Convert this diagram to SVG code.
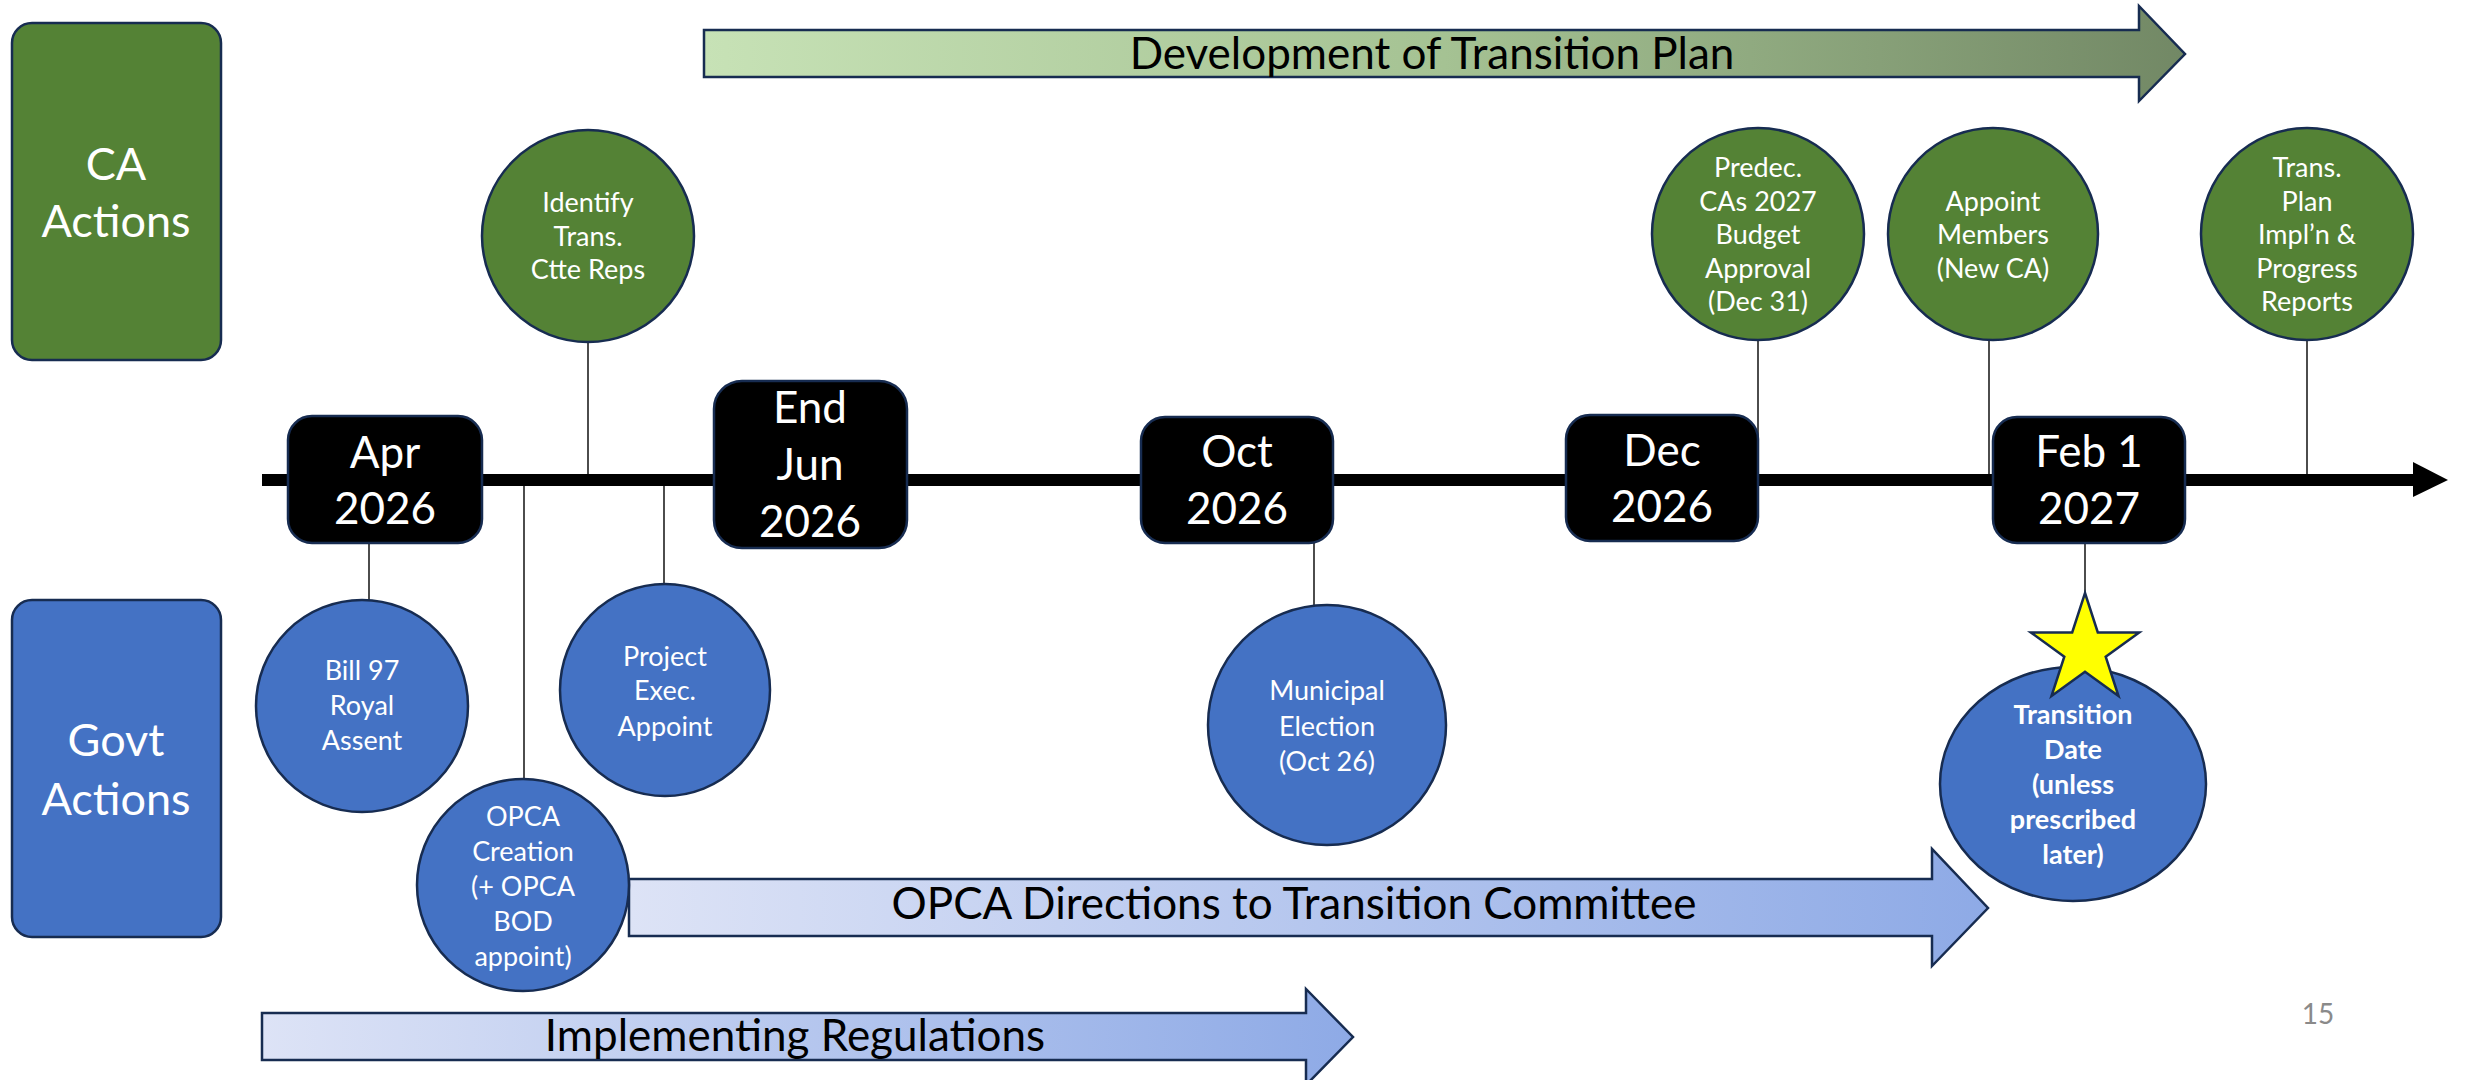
<svg xmlns="http://www.w3.org/2000/svg" width="2466" height="1080" viewBox="0 0 2466 1080">
<defs>
<linearGradient id="gGreen" x1="0" y1="0" x2="1" y2="0"><stop offset="0" stop-color="#c7e2b6"/><stop offset="0.5" stop-color="#a5c293"/><stop offset="1" stop-color="#728865"/></linearGradient>
<linearGradient id="gBlue" x1="0" y1="0" x2="1" y2="0"><stop offset="0" stop-color="#dde3f6"/><stop offset="1" stop-color="#8eaae6"/></linearGradient>
<style>
.lab{font-family:Lato,"Liberation Sans",sans-serif;fill:#fff;text-anchor:middle}
.side{font-size:45px}
.date{font-size:44px}
.circ{font-size:27px}
.bold{font-weight:bold}
.arr{font-family:Lato,"Liberation Sans",sans-serif;fill:#000;font-size:44px;text-anchor:middle}
.ol{stroke:#172c51;stroke-width:2.5}
.g{fill:#548235}
.b{fill:#4472c4}
.k{fill:#000}
.conn{stroke:#000;stroke-width:1.4;fill:none}
</style>
</defs>
<rect width="2466" height="1080" fill="#fff"/>

<g id="arrow-dev">
<polygon class="ol" fill="url(#gGreen)" points="704,30 2139,30 2139,6 2185,54 2139,101 2139,77 704,77"/>
<text class="arr" x="1432" y="69">Development of Transition Plan</text>
</g>
<g id="arrow-opca-dir">
<polygon class="ol" fill="url(#gBlue)" points="629,879 1932,879 1932,849 1988,908 1932,966 1932,936 629,936"/>
<text class="arr" x="1294" y="919">OPCA Directions to Transition Committee</text>
</g>
<g id="arrow-impl">
<polygon class="ol" fill="url(#gBlue)" points="262,1013 1306,1013 1306,989 1353,1037 1306,1085 1306,1060 262,1060"/>
<text class="arr" x="795" y="1051">Implementing Regulations</text>
</g>

<g id="connectors">
<rect x="262" y="474" width="2152" height="12" fill="#000"/>
<polygon points="2413,462 2448,480 2413,497" fill="#000"/>
<line class="conn" x1="588" y1="342" x2="588" y2="480"/>
<line class="conn" x1="1758" y1="340" x2="1758" y2="480"/>
<line class="conn" x1="1989" y1="340" x2="1989" y2="480"/>
<line class="conn" x1="2307" y1="340" x2="2307" y2="480"/>
<line class="conn" x1="369" y1="543" x2="369" y2="600"/>
<line class="conn" x1="524" y1="480" x2="524" y2="779"/>
<line class="conn" x1="664" y1="480" x2="664" y2="584"/>
<line class="conn" x1="1314" y1="543" x2="1314" y2="605"/>
<line class="conn" x1="2085" y1="543" x2="2085" y2="593"/>
</g>

<g id="ca-actions">
<rect class="ol g" x="12" y="23" width="209" height="337" rx="20"/>
<text class="lab side" x="116" y="180">CA</text>
<text class="lab side" x="116" y="237">Actions</text>
</g>
<g id="govt-actions">
<rect class="ol b" x="12" y="600" width="209" height="337" rx="20"/>
<text class="lab side" x="116" y="756">Govt</text>
<text class="lab side" x="116" y="815">Actions</text>
</g>

<g id="date-apr">
<rect class="ol k" x="288" y="416" width="194" height="127" rx="24"/>
<text class="lab date" x="385" y="468">Apr</text>
<text class="lab date" x="385" y="524">2026</text>
</g>
<g id="date-jun">
<rect class="ol k" x="714" y="381" width="193" height="167" rx="28"/>
<text class="lab date" x="810" y="423">End</text>
<text class="lab date" x="810" y="480">Jun</text>
<text class="lab date" x="810" y="537">2026</text>
</g>
<g id="date-oct">
<rect class="ol k" x="1141" y="417" width="192" height="126" rx="24"/>
<text class="lab date" x="1237" y="467">Oct</text>
<text class="lab date" x="1237" y="524">2026</text>
</g>
<g id="date-dec">
<rect class="ol k" x="1566" y="415" width="192" height="126" rx="24"/>
<text class="lab date" x="1662" y="466">Dec</text>
<text class="lab date" x="1662" y="522">2026</text>
</g>
<g id="date-feb">
<rect class="ol k" x="1993" y="417" width="192" height="126" rx="24"/>
<text class="lab date" x="2089" y="467">Feb 1</text>
<text class="lab date" x="2089" y="524">2027</text>
</g>

<g id="identify">
<ellipse class="ol g" cx="588" cy="236" rx="106" ry="106"/>
<text class="lab circ" x="588" y="212">Identify</text>
<text class="lab circ" x="588" y="246">Trans.</text>
<text class="lab circ" x="588" y="279">Ctte Reps</text>
</g>
<g id="predec">
<ellipse class="ol g" cx="1758" cy="234" rx="106" ry="106"/>
<text class="lab circ" x="1758" y="177">Predec.</text>
<text class="lab circ" x="1758" y="211">CAs 2027</text>
<text class="lab circ" x="1758" y="244">Budget</text>
<text class="lab circ" x="1758" y="278">Approval</text>
<text class="lab circ" x="1758" y="311">(Dec 31)</text>
</g>
<g id="appoint">
<ellipse class="ol g" cx="1993" cy="234" rx="105" ry="106"/>
<text class="lab circ" x="1993" y="211">Appoint</text>
<text class="lab circ" x="1993" y="244">Members</text>
<text class="lab circ" x="1993" y="278">(New CA)</text>
</g>
<g id="trans-plan">
<ellipse class="ol g" cx="2307" cy="234" rx="106" ry="106"/>
<text class="lab circ" x="2307" y="177">Trans.</text>
<text class="lab circ" x="2307" y="211">Plan</text>
<text class="lab circ" x="2307" y="244">Impl’n &amp;</text>
<text class="lab circ" x="2307" y="278">Progress</text>
<text class="lab circ" x="2307" y="311">Reports</text>
</g>

<g id="bill97">
<ellipse class="ol b" cx="362" cy="706" rx="106" ry="106"/>
<text class="lab circ" x="362" y="680">Bill 97</text>
<text class="lab circ" x="362" y="715">Royal</text>
<text class="lab circ" x="362" y="750">Assent</text>
</g>
<g id="project-exec">
<ellipse class="ol b" cx="665" cy="690" rx="105" ry="106"/>
<text class="lab circ" x="665" y="666">Project</text>
<text class="lab circ" x="665" y="700">Exec.</text>
<text class="lab circ" x="665" y="736">Appoint</text>
</g>
<g id="opca-creation">
<ellipse class="ol b" cx="523" cy="885" rx="106" ry="106"/>
<text class="lab circ" x="523" y="826">OPCA</text>
<text class="lab circ" x="523" y="861">Creation</text>
<text class="lab circ" x="523" y="896">(+ OPCA</text>
<text class="lab circ" x="523" y="931">BOD</text>
<text class="lab circ" x="523" y="966">appoint)</text>
</g>
<g id="municipal">
<ellipse class="ol b" cx="1327" cy="725" rx="119" ry="120"/>
<text class="lab circ" x="1327" y="700">Municipal</text>
<text class="lab circ" x="1327" y="736">Election</text>
<text class="lab circ" x="1327" y="771">(Oct 26)</text>
</g>
<g id="transition-date">
<ellipse class="ol b" cx="2073" cy="784" rx="133" ry="117"/>
<polygon class="ol" fill="#ffff00" points="2085,593 2097.8,632.4 2139.2,632.4 2105.7,656.7 2118.5,696.1 2085,671.8 2051.5,696.1 2064.3,656.7 2030.8,632.4 2072.2,632.4"/>
<text class="lab circ bold" x="2073" y="724">Transition</text>
<text class="lab circ bold" x="2073" y="759">Date</text>
<text class="lab circ bold" x="2073" y="794">(unless</text>
<text class="lab circ bold" x="2073" y="829">prescribed</text>
<text class="lab circ bold" x="2073" y="864">later)</text>
</g>

<text x="2318" y="1024" font-family="Lato,'Liberation Sans',sans-serif" font-size="28" fill="#8a8a8a" text-anchor="middle">15</text>
</svg>
